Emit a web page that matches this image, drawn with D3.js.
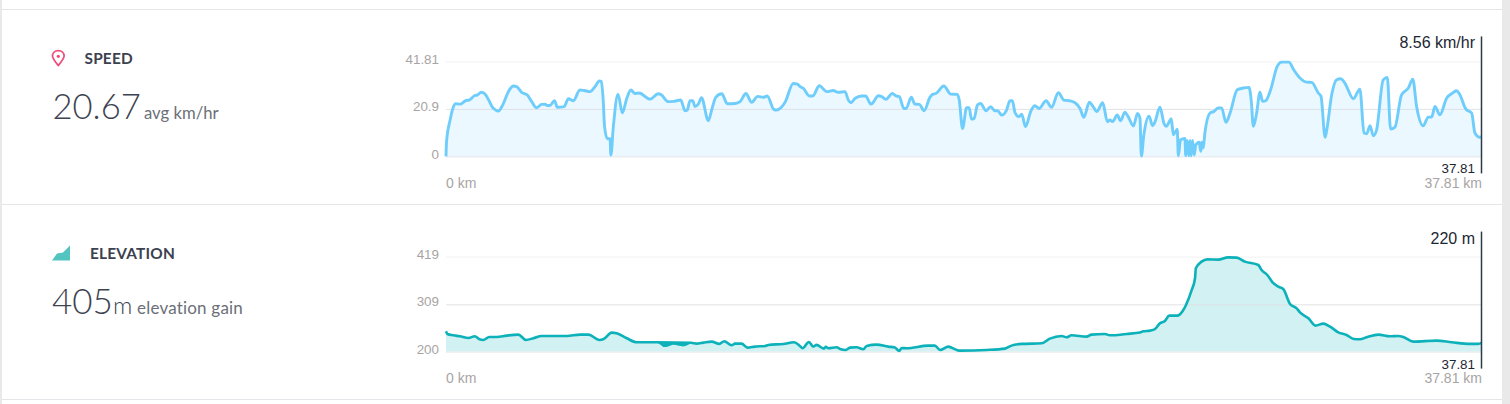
<!DOCTYPE html>
<html><head><meta charset="utf-8">
<script src="https://cdn.jsdelivr.net/npm/d3@7"></script>
<style>html,body{margin:0;padding:0;background:#fff;overflow:hidden}svg{display:block}</style>
</head><body><svg id="c" width="1510" height="404"></svg>
<script>
const speedKm = [0,0.02,0.15,0.24,0.34,0.51,0.73,0.85,1.05,1.14,1.29,1.41,1.56,1.70,1.92,2.04,2.31,2.46,2.58,2.76,2.97,3.13,3.31,3.49,3.61,3.70,3.80,3.96,4.07,4.31,4.47,4.65,4.89,5.04,5.26,5.44,5.60,5.67,5.74,5.79,5.89,5.99,6.02,6.11,6.28,6.44,6.60,6.75,6.90,7.05,7.45,7.75,7.86,8.11,8.30,8.57,8.73,8.81,8.91,9.01,9.09,9.21,9.33,9.58,9.70,9.85,10.07,10.27,10.55,10.74,10.95,11.16,11.38,11.59,11.73,11.97,12.07,12.38,12.68,12.83,12.93,13.05,13.27,13.39,13.63,13.90,14.14,14.32,14.57,14.69,14.79,14.93,15.18,15.32,15.52,15.79,15.91,16.06,16.30,16.43,16.55,16.72,16.80,16.99,17.12,17.28,17.46,17.67,17.77,17.89,18.18,18.43,18.67,18.74,18.86,19.01,19.10,19.19,19.28,19.41,19.52,19.72,19.89,20.04,20.14,20.29,20.47,20.59,20.68,20.78,20.92,21.02,21.16,21.36,21.50,21.66,21.91,22.11,22.36,22.56,22.76,22.97,23.15,23.29,23.49,23.63,23.76,23.98,24.15,24.24,24.34,24.51,24.63,24.79,24.91,25.10,25.25,25.34,25.39,25.48,25.67,25.80,25.88,26.07,26.22,26.31,26.38,26.48,26.56,26.70,26.74,26.82,26.98,27.01,27.07,27.12,27.17,27.21,27.26,27.32,27.38,27.50,27.56,27.59,27.65,27.71,27.90,28.04,28.20,28.32,28.48,28.63,28.89,29.11,29.32,29.40,29.48,29.60,29.72,29.82,29.93,30.11,30.35,30.51,30.78,30.94,31.18,31.42,31.61,31.85,31.95,32.10,32.16,32.34,32.52,32.67,32.82,33.13,33.37,33.52,33.62,33.74,33.86,33.98,34.22,34.37,34.49,34.65,34.89,35.14,35.30,35.44,35.68,35.87,35.99,36.11,36.29,36.54,36.72,36.90,37.02,37.24,37.45,37.57,37.75,37.81];
const speedVal = [0,6.5,16.0,20.7,23.2,23.0,24.6,24.8,26.8,27.0,28.2,27.6,24.8,21.6,20.0,21.9,29.2,31.0,30.7,28.2,27.0,24.1,21.4,22.9,23.0,22.4,22.4,24.5,21.6,21.9,25.4,24.5,29.2,29.0,28.5,30.7,33.2,33.0,24.8,13.1,7.8,7.8,0.6,13.1,27.4,19.2,25.5,29.2,27.7,27.9,25.2,27.6,27.1,24.1,24.2,24.8,20.1,20.4,24.5,24.5,21.9,23.0,25.8,15.7,20.4,26.0,27.6,23.2,23.3,24.1,27.7,23.8,26.4,26.0,26.6,20.7,20.4,23.8,32.1,31.8,30.7,29.9,26.6,26.6,31.1,28.5,29.0,28.2,28.5,24.8,23.6,25.5,26.6,26.6,23.0,26.7,26.3,25.1,27.7,26.6,26.3,21.1,21.1,26.0,23.0,22.9,20.1,26.0,27.3,27.7,31.0,27.4,27.3,24.8,12.3,21.4,21.4,16.4,16.6,22.7,23.3,20.1,21.9,20.1,20.1,18.2,20.4,24.5,24.5,19.2,17.5,18.6,13.1,20.1,22.3,21.1,24.5,21.6,28.0,24.8,24.5,23.6,21.1,17.2,23.8,21.9,19.7,23.6,15.3,16.0,15.3,18.2,15.7,19.4,17.5,13.4,18.9,16.7,0.1,9.4,17.7,13.5,15,21.6,14.4,13.2,14.6,16.6,9.5,12.0,0.3,7.3,7.9,0.3,7.0,0.3,7.0,0.3,7,0.6,5.1,6.2,2.2,6.2,3.7,10.3,19.1,19.8,21.3,21.3,15.0,19.1,29.3,30.1,30.4,24.9,13.2,19.1,28.2,24.2,24.5,29.3,39.6,41.5,41.5,38.4,34.5,32.7,32.6,27.9,26.4,8.4,11.7,27.1,33.7,34.2,32.3,25.4,29.6,10.3,10.0,13.5,9.1,11.7,33.7,34.8,12.0,12.9,27.1,30.1,34.0,22.0,13.5,17.3,17.3,22.0,18.3,25.7,27.6,28.9,27.1,20.8,19.1,10.3,8.4,8.56];

const elevKm = [0,0.05,0.27,0.51,0.82,1.05,1.22,1.36,1.58,1.85,2.21,2.64,2.92,3.19,3.49,4.41,4.89,5.20,5.60,5.74,6.05,6.23,6.60,6.96,7.69,8.95,9.15,9.40,9.70,9.98,10.16,10.43,10.55,10.79,11.01,11.28,11.65,11.77,12.32,12.71,12.92,13.02,13.25,13.41,13.53,13.80,13.87,13.96,14.26,14.39,14.60,14.75,14.99,15.24,15.36,15.72,16.15,16.39,16.55,16.64,16.82,17.61,17.85,18.04,18.34,18.65,18.77,19.74,20.41,20.65,21.02,21.75,22.05,22.48,22.66,22.84,23.39,23.57,24.06,24.24,24.85,25.34,25.46,25.71,25.89,26.07,26.25,26.41,26.70,26.90,27.02,27.23,27.35,27.38,27.59,27.80,28.20,28.56,28.87,29.17,29.66,29.78,29.99,30.18,30.39,30.57,30.82,31.06,31.18,31.49,31.75,32.03,32.28,32.58,32.88,33.15,33.37,33.62,34.04,34.47,34.77,34.95,35.32,36.17,36.72,37.39,37.69,37.81];
const elevVal = [246.8,240.7,237.6,235.3,231.5,235.3,228.4,226.9,233.8,233.8,236.9,239.2,226.9,230.7,236.1,236.1,239.2,239.2,226.9,228.4,243.8,242.2,230.7,221.5,221.5,220.5,218.4,220.7,223,217.7,223.8,214.6,218.4,218.4,209.2,211.5,213.1,215.4,217.7,221.5,213.1,207.7,222.3,211.5,215.4,206.9,210.8,207.7,210,206.1,203.8,209.2,210,205.4,213.1,216.1,211.5,209.2,201.5,208.4,207.7,213.8,213.8,203.8,211.5,203.8,202.3,203.8,206.9,213.8,217.7,219.2,230,236.1,233,237.6,234.6,239.2,240.7,237.6,240.7,243.8,246.8,248.4,252.2,265.3,270.7,282.9,282.9,293.7,307.5,342.1,369,392,407.4,412.7,412,417.3,416.6,407.4,399.7,388.2,376.6,359.7,349.8,344.4,309.8,299.8,290.6,276.8,259.9,264.5,257.6,244.5,238.4,229.2,228.4,233,239.2,235.3,236.1,233.8,223,225.3,221.5,217.7,217.7,220];

// Noisy stretch of the elevation trace: the line doubles back on itself, so it reads as a solid band
const elevBandKm = [7.69,7.83,7.97,8.11,8.30,8.46,8.66,8.81,8.95];
const elevBandLow = [221.5,216,210.5,212,216,214,212,214.5,220];
const elevBandHigh = [221.5,221.5,221.5,221.5,221.5,221.5,221,220.7,220.5];

const speedTicks = [0, 20.9, 41.81];
const elevTicks = [200, 309, 419];
const maxKm = 37.81;
const sans = "'Liberation Sans',Arial,sans-serif";
const head = "Lato,'Open Sans',sans-serif";

const svg = d3.select("#c");
const x = d3.scaleLinear().domain([0, maxKm]).range([446, 1481.5]);

svg.append("rect").attr("x",0).attr("y",0).attr("width",2).attr("height",404).attr("fill","#e9e9e9");
svg.append("rect").attr("x",1502).attr("y",0).attr("width",8).attr("height",404).attr("fill","#e9e9e9");
[9.5,204.5,399.5].forEach(y=>svg.append("line").attr("x1",2).attr("x2",1502).attr("y1",y).attr("y2",y).attr("stroke","#e4e6ea").attr("stroke-width",1));

function chart(o){
  const y = d3.scaleLinear().domain(o.domain).range([o.y0, o.y1]);
  const axis = d3.axisLeft(y).tickValues(o.ticks).tickFormat(d=>String(d)).tickSize(-(1481.5-446)).tickPadding(7);
  const g = svg.append("g").attr("transform","translate(446,0)").call(axis);
  g.select(".domain").remove();
  g.selectAll(".tick line").attr("stroke",d=>d===o.ticks[1]?"#dfe0e2":(d===o.ticks[0]?"#dfe3e8":"#f0f0f0")).attr("stroke-width",1);
  g.selectAll(".tick text").attr("font-family",sans).attr("font-size",13.4).attr("fill","#a8a4a4").attr("dy","0.12em");
  const pts = o.km.map((k,i)=>[k,o.val[i]]);
  const area = d3.area().x(d=>x(d[0])).y0(o.y0).y1(d=>y(d[1])).curve(d3.curveMonotoneX);
  const line = d3.line().x(d=>x(d[0])).y(d=>y(d[1])).curve(d3.curveMonotoneX);
  svg.append("path").attr("d",area(pts)).attr("fill",o.fill);
  g.raise();
  g.selectAll(".tick line").attr("stroke-opacity",0.9);
  svg.append("path").attr("d",line(pts)).attr("fill","none").attr("stroke",o.stroke).attr("stroke-width",o.sw).attr("stroke-linejoin","round");
  if(o.bandKm){
    const band = d3.area().x(d=>x(d[0])).y0(d=>y(d[1])).y1(d=>y(d[2])).curve(d3.curveMonotoneX);
    svg.append("path").attr("d",band(o.bandKm.map((k,i)=>[k,o.bandLow[i],o.bandHigh[i]]))).attr("fill",o.stroke);
  }
  svg.append("line").attr("x1",1481.5).attr("x2",1481.5).attr("y1",o.y1-25).attr("y2",o.y0+17).attr("stroke","#2b3b47").attr("stroke-width",1.5);
  const t=(tx,ty,s,size,fill,anchor)=>svg.append("text").attr("x",tx).attr("y",ty).attr("font-family",sans).attr("font-size",size).attr("fill",fill).attr("text-anchor",anchor).text(s);
  t(1475,o.y1-13,o.cursor,16,"#1b2733","end");
  t(1475,o.y0+17,"37.81",13.4,"#1b2733","end");
  t(446,o.y0+31.5,"0 km",14,"#a8a4a4","start");
  t(1482,o.y0+31.5,"37.81 km",14,"#a8a4a4","end");
}

chart({domain:[0,41.81],y0:156.4,y1:61.4,ticks:speedTicks,km:speedKm,val:speedVal,fill:"#ecf8ff",stroke:"#6fcdfc",sw:2.9,cursor:"8.56 km/hr"});
chart({domain:[200,419],y0:351.6,y1:256.6,ticks:elevTicks,km:elevKm,val:elevVal,bandKm:elevBandKm,bandLow:elevBandLow,bandHigh:elevBandHigh,fill:"#d2f1f3",stroke:"#0cb1b9",sw:2.6,cursor:"220 m"});

const lt=(tx,ty,s,size,fill,w,sp)=>svg.append("text").attr("x",tx).attr("y",ty).attr("font-family",head).attr("font-size",size).attr("fill",fill).attr("font-weight",w||400).attr("letter-spacing",sp||0).text(s);
svg.append("path").attr("d","M58.3,65.5C55,61.5 52.5,58.5 52.5,56C52.5,52.8 55.1,50.6 58.3,50.6C61.5,50.6 64.1,52.8 64.1,56C64.1,58.5 61.6,61.5 58.3,65.5Z").attr("fill","none").attr("stroke","#ee4d79").attr("stroke-width",1.7);
svg.append("circle").attr("cx",58.3).attr("cy",56.3).attr("r",1.6).attr("fill","#ee4d79");
lt(84.5,63.5,"SPEED",15.4,"#3c4150",700,0.2);
lt(52.5,119,"20.67",34.6,"#3d4351",300);
lt(144,119,"avg km/hr",16.7,"#6b6f78",400);
svg.append("path").attr("d","M52,260.5L57,253.5L63,252.5L70,245.5L70,260.5Z").attr("fill","#54c4c1");
lt(90,259,"ELEVATION",15.4,"#3c4150",700,0.2);
lt(52,314,"405",35,"#3d4351",300);
lt(113,314,"m",24,"#3d4351",300);
lt(137,314,"elevation gain",17,"#6b6f78",400,0.2);
</script></body></html>
